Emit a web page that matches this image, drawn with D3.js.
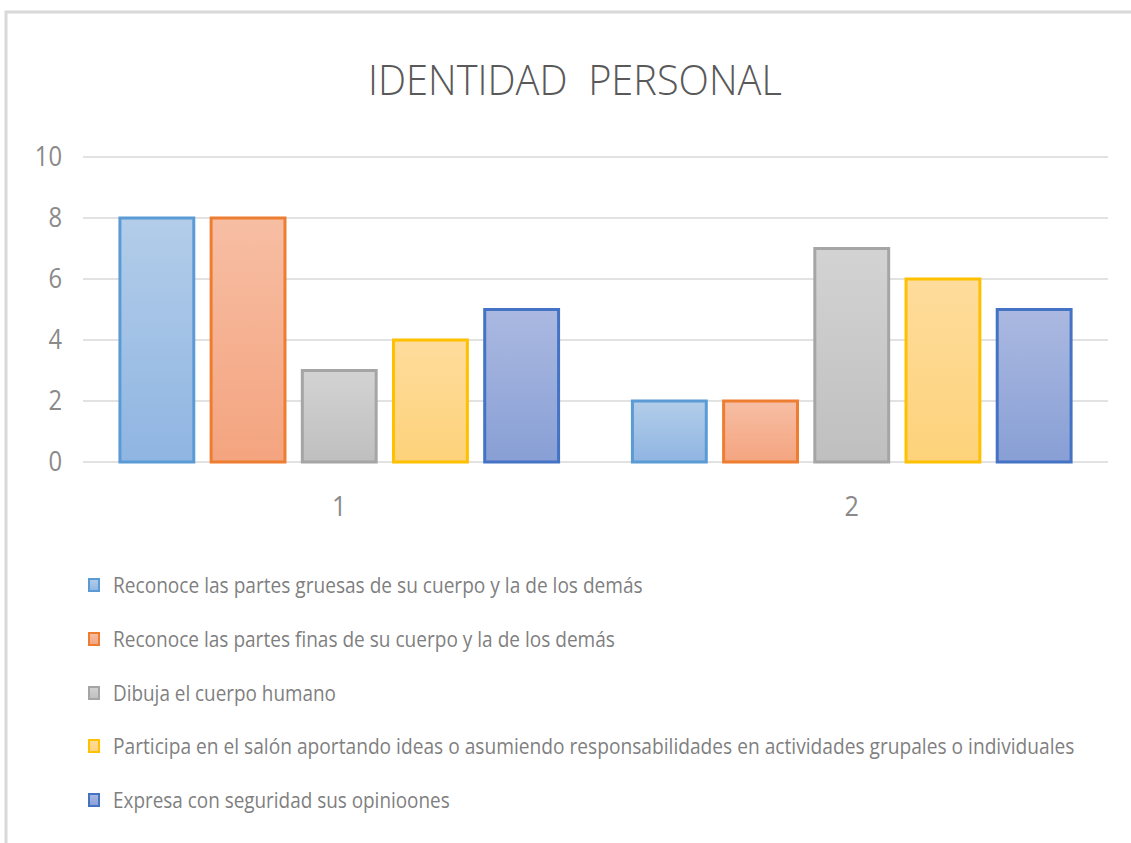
<!DOCTYPE html>
<html><head><meta charset="utf-8">
<script src="https://cdn.jsdelivr.net/npm/d3@7"></script>
<style>html,body{margin:0;padding:0;background:#fff;}svg{display:block;}</style>
</head><body>
<svg id="chart" width="1131" height="843"></svg>
<script>
const categories = ["1", "2"];
const seriesNames = [
  "Reconoce las partes gruesas de su cuerpo y la de los demás",
  "Reconoce las partes finas de su cuerpo y la de los demás",
  "Dibuja el cuerpo humano",
  "Participa en el salón aportando ideas o asumiendo responsabilidades en actividades grupales o individuales",
  "Expresa con seguridad sus opinioones"
];
const valuesCat1 = [8, 8, 3, 4, 5];
const valuesCat2 = [2, 2, 7, 6, 5];
const yTicks = [0, 2, 4, 6, 8, 10];
const titleText = "IDENTIDAD  PERSONAL";

const strokeColors = ["#5b9bd5", "#ed7d31", "#a5a5a5", "#ffc000", "#4472c4"];
const topFill = ["#b3cde9", "#f7bea4", "#d3d3d3", "#fedc9c", "#abb9e1"];
const botFill = ["#8fb5e2", "#f4a47f", "#bfbfbf", "#fdd27a", "#889fd5"];
const legendWidths = [530, 502, 223, 962, 337];

const svg = d3.select("#chart");
const defs = svg.append("defs");
strokeColors.forEach((c, i) => {
  const g = defs.append("linearGradient").attr("id", "g" + i)
    .attr("x1", 0).attr("y1", 0).attr("x2", 0).attr("y2", 1);
  g.append("stop").attr("offset", "0%").attr("stop-color", topFill[i]);
  g.append("stop").attr("offset", "100%").attr("stop-color", botFill[i]);
});

// outer border (partially visible)
svg.append("rect").attr("x", 6).attr("y", 12).attr("width", 1200).attr("height", 900)
  .attr("fill", "none").attr("stroke", "#d9d9d9").attr("stroke-width", 3);

const fontFam = "'Open Sans', 'Noto Sans', sans-serif";

// squeeze a text horizontally to a target width, anchored at its left edge
function fitWidth(sel, widthFn) {
  sel.each(function(d, i) {
    const natural = this.getComputedTextLength();
    const target = widthFn(d, i);
    d3.select(this).attr("transform", `scale(${target / natural},1)`);
  });
}

// title
const tg = svg.append("g").attr("transform", "translate(368,95)");
tg.append("text").attr("x", 0).attr("y", 0)
  .attr("font-family", fontFam).attr("font-size", 42).attr("font-weight", 300)
  .attr("fill", "#595959").style("white-space", "pre")
  .text(titleText)
  .call(fitWidth, () => 414);

const left = 83, right = 1108;
const y = d3.scaleLinear().domain([0, 10]).range([462, 157]);
const x0 = d3.scaleBand().domain(categories).range([left, right]).padding(0);
const x1 = d3.scaleBand().domain(d3.range(5)).range([28.25, x0.bandwidth() - 28.25])
  .paddingInner(0.19).paddingOuter(0.095);

// gridlines
svg.append("g").selectAll("line").data(yTicks).join("line")
  .attr("x1", left).attr("x2", right)
  .attr("y1", d => y(d)).attr("y2", d => y(d))
  .attr("stroke", "#d9d9d9").attr("stroke-width", 1.5);

// y axis labels
const yAxis = d3.axisLeft(y).tickValues(yTicks).tickSize(0).tickPadding(0);
const yg = svg.append("g").attr("transform", "translate(62,0)").call(yAxis);
yg.select(".domain").remove();
yg.selectAll("text").attr("font-family", fontFam).attr("font-size", 28)
  .attr("fill", "#8a8a8a").attr("transform", "scale(0.85,1)");

// x axis labels
const xAxis = d3.axisBottom(x0).tickSize(0).tickPadding(0);
const xg = svg.append("g").attr("transform", "translate(0,496)").call(xAxis);
xg.select(".domain").remove();
xg.selectAll("text").attr("font-family", fontFam).attr("font-size", 28)
  .attr("fill", "#8a8a8a").attr("transform", "scale(0.9,1)");

// bars
const data = categories.map((c, ci) => ({cat: c, vals: [valuesCat1, valuesCat2][ci]}));
const groups = svg.append("g").selectAll("g").data(data).join("g")
  .attr("transform", d => `translate(${x0(d.cat)},0)`);
groups.selectAll("rect").data(d => d.vals.map((v, i) => ({v, i}))).join("rect")
  .attr("x", d => x1(d.i)).attr("width", x1.bandwidth())
  .attr("y", d => y(d.v)).attr("height", d => y(0) - y(d.v))
  .attr("fill", d => `url(#g${d.i})`)
  .attr("stroke", d => strokeColors[d.i]).attr("stroke-width", 3);

// legend
const lg = svg.append("g").selectAll("g").data(seriesNames).join("g")
  .attr("transform", (d, i) => `translate(88,${[585, 639, 693, 746, 800][i]})`);
lg.append("rect").attr("x", 1).attr("y", -6).attr("width", 10).attr("height", 12)
  .attr("fill", (d, i) => `url(#g${i})`).attr("stroke", (d, i) => strokeColors[i]).attr("stroke-width", 2);
lg.append("g").attr("transform", "translate(25,7.5)")
  .append("text").attr("x", 0).attr("y", 0)
  .attr("font-family", fontFam).attr("font-size", 21).attr("fill", "#7f7f7f")
  .text(d => d)
  .call(fitWidth, (d, i) => legendWidths[seriesNames.indexOf(d)]);
</script>
</body></html>
